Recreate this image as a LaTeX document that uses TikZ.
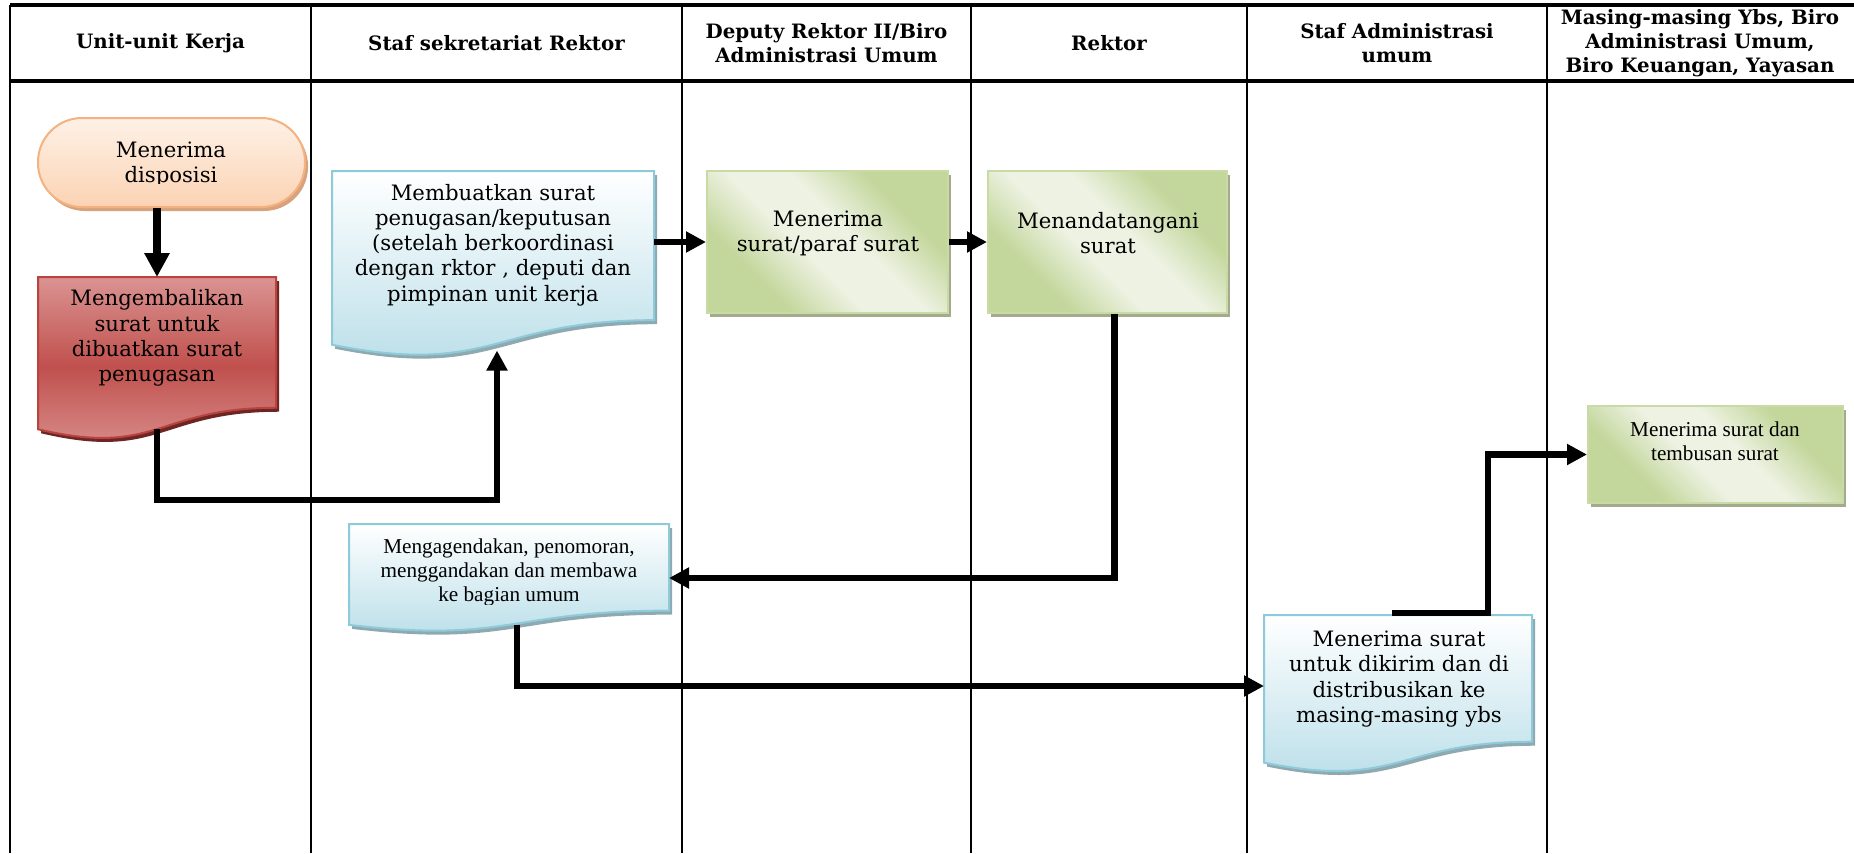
\documentclass[tikz,border=0pt]{standalone}
\usepackage{fontspec}
\setmainfont{DejaVu Serif}
\newfontfamily\timesfont{Liberation Serif}
\usetikzlibrary{arrows.meta,calc,backgrounds,shadows}

\definecolor{peachTop}{HTML}{FEF1E7}
\definecolor{peachBot}{HTML}{FBD3B3}
\definecolor{peachLine}{HTML}{F5B27F}
\definecolor{peachShadow}{HTML}{D7A37D}
\definecolor{redLight}{HTML}{DA9492}
\definecolor{redDark}{HTML}{C0504D}
\definecolor{redLine}{HTML}{B8433F}
\definecolor{redShadow}{HTML}{6E2624}
\definecolor{blueTop}{HTML}{FFFFFF}
\definecolor{blueBot}{HTML}{B7DDE8}
\definecolor{blueLine}{HTML}{8ECBDA}
\definecolor{blueShadow}{HTML}{8FA9B1}
\definecolor{greenDark}{HTML}{C3D69B}
\definecolor{greenLight}{HTML}{EDF2E2}
\definecolor{greenLine}{HTML}{C9DAA5}
\definecolor{greenShadow}{HTML}{A3AA8E}

% green process boxes: dark corners, light diagonal band
\pgfdeclareverticalshading{greenband}{100bp}{color(0bp)=(greenDark); color(30bp)=(greenDark);
  color(44bp)=(greenLight); color(56bp)=(greenLight); color(70bp)=(greenDark); color(100bp)=(greenDark)}

% Flowchart "document" symbol: name, x, y, width, height, fill options, border colour, shadow colour
\newcommand\docbox[8]{%
  \node[minimum width=#4*0.5pt, minimum height=#5*0.5pt, inner sep=0pt, outer sep=0pt, anchor=north west] (#1) at (#2,#3) {};
  \coordinate (#1-wave) at ({#2+0.5*#4},{#3+0.933*#5});
  \begin{scope}[on background layer]
    \begin{scope}[shift={({#2+3},{#3+4})}]
      \fill[#8] (0,0) -- ({#4},0) -- ({#4},{0.802*#5})
        .. controls ({0.5*#4},{0.802*#5}) and ({0.5*#4},{1.1075*#5}) .. (0,{0.934*#5}) -- cycle;
    \end{scope}
    \begin{scope}[shift={(#2,#3)}]
      \path[#6, draw=#7, line width=1pt] (0,0) -- ({#4},0) -- ({#4},{0.802*#5})
        .. controls ({0.5*#4},{0.802*#5}) and ({0.5*#4},{1.1075*#5}) .. (0,{0.934*#5}) -- cycle;
    \end{scope}
  \end{scope}%
}

\begin{document}
\begin{tikzpicture}[x=0.5pt,y=-0.5pt,
  lane/.style={line width=1.2pt},
  rule/.style={line width=2pt},
  hdr/.style={font=\bfseries\fontsize{9.9}{12}\selectfont, align=center, inner sep=0pt},
  body/.style={font=\fontsize{10.6}{12.6}\selectfont, align=center, inner sep=0pt},
  tbody/.style={font=\timesfont\fontsize{10.6}{12}\selectfont, align=center, inner sep=0pt},
  flow/.style={line width=3.2pt, -{Triangle[length=10pt,width=10pt]}},
  term/.style={draw=peachLine, line width=1pt, rounded corners=22pt,
    top color=peachTop, bottom color=peachBot, inner sep=0pt,
    drop shadow={shadow xshift=1.5pt, shadow yshift=-2pt, fill=peachShadow, opacity=1}},
  greenbox/.style={draw=greenLine, line width=1pt, inner sep=0pt,
    shade, shading=greenband, shading angle=-45,
    drop shadow={shadow xshift=1.5pt, shadow yshift=-2pt, fill=greenShadow, opacity=1}},
  redfill/.style={top color=redLight, bottom color=redLight, middle color=redDark},
  bluefill/.style={top color=blueTop, bottom color=blueBot}]

\begin{scope}[on background layer]
  \fill[white] (0,0) rectangle (1854,853);
\end{scope}
\useasboundingbox (0,0) rectangle (1854,853);

% table frame and swimlanes
\draw[rule] (10,5) -- (1854,5);
\draw[rule] (10,81) -- (1854,81);
\foreach \x in {10,311,682,971,1247,1547}
  \draw[lane] (\x,5) -- (\x,853);

% lane headers
\node[hdr] (h1) at (160.5,43) {Unit-unit Kerja};
\node[hdr] (h2) at (496.5,43) {Staf sekretariat Rektor};
\node[hdr] (h3) at (826.5,43) {Deputy Rektor II/Biro\\Administrasi Umum};
\node[hdr] (h4) at (1109,43) {Rektor};
\node[hdr] (h5) at (1397,43) {Staf Administrasi\\umum};
\node[hdr] (h6) at (1700,43) {Masing-masing Ybs, Biro\\Administrasi Umum,\\Biro Keuangan, Yayasan};

% process symbols
\node[term, minimum width=133.5pt, minimum height=44.5pt] (start) at (171.5,162.5) {};
\begin{scope}
  \clip (0,0) rectangle (1854,183);
  \node[body] (start-t) at (171,164) {Menerima\\disposisi};
\end{scope}

\docbox{red}{38}{277}{238}{163}{redfill}{redLine}{redShadow}
\node[body] (red-t) at (157,338) {Mengembalikan\\surat untuk\\dibuatkan surat\\penugasan};

\docbox{blue1}{332}{171}{322}{186}{bluefill}{blueLine}{blueShadow}
\node[body] (blue1-t) at (493,245) {Membuatkan surat\\penugasan/keputusan\\(setelah berkoordinasi\\dengan rktor , deputi dan\\pimpinan unit kerja};

\node[greenbox, minimum width=120.5pt, minimum height=71pt] (g1) at (827.5,242) {};
\node[body] (g1-t) at (828,233) {Menerima\\surat/paraf surat};

\node[greenbox, minimum width=119.5pt, minimum height=71pt] (g2) at (1107.5,242) {};
\node[body] (g2-t) at (1108,233) {Menandatangani\\surat};

\docbox{blue2}{349}{524}{320}{108}{bluefill}{blueLine}{blueShadow}
\begin{scope}
  \clip (0,0) rectangle (1854,604);
  \node[tbody] (blue2-t) at (509,572) {Mengagendakan, penomoran,\\menggandakan dan membawa\\ke bagian umum};
\end{scope}

\docbox{doc3}{1264}{615}{268}{158}{bluefill}{blueLine}{blueShadow}
\node[body] (doc3-t) at (1399,679) {Menerima surat\\untuk dikirim dan di\\distribusikan ke\\masing-masing ybs};

\node[greenbox, minimum width=127.5pt, minimum height=48.5pt] (g3) at (1715.5,454.5) {};
\node[tbody] (g3-t) at (1715,441) {Menerima surat dan\\tembusan surat};

% connectors
\coordinate (bendA) at (0,500);
\draw[line width=4pt, -{Triangle[length=12pt,width=12pt]}] (red.north |- start.south) -- (red.north);
\draw[flow] (red-wave) -- (red-wave |- bendA) -| ($(blue1-wave)+(4,6)$);
\draw[flow] (blue1.east |- g1.west) -- (g1.west);
\draw[flow] (g1.east) -- (g2.west);
\draw[flow] ($(g2.south)+(7,0)$) |- (blue2.east);
\draw[flow] ($(blue2-wave)+(8,0)$) |- ($(doc3.west)+(0,-8)$);
\draw[flow] ($(doc3.north)+(-6,-2)$) -| ($(g3.west)+(-99,0)$) -- (g3.west);

\end{tikzpicture}
\end{document}
